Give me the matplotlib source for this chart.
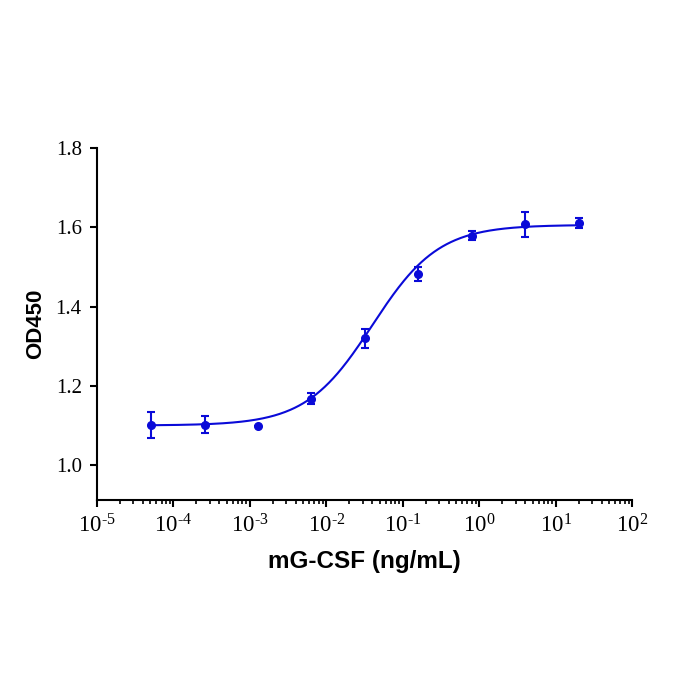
import numpy as np
import matplotlib
matplotlib.use("Agg")
import matplotlib.pyplot as plt
from matplotlib.ticker import LogLocator, FuncFormatter, NullFormatter

plt.rcParams['mathtext.fontset'] = 'custom'
plt.rcParams['mathtext.rm'] = 'Liberation Serif'
plt.rcParams['mathtext.it'] = 'Liberation Serif:italic'
plt.rcParams['mathtext.bf'] = 'Liberation Serif:bold'

# Data
conc = [5.12e-5, 2.56e-4, 1.28e-3, 6.4e-3, 0.032, 0.16, 0.8, 4.0, 20.0]
od = [1.101, 1.102, 1.098, 1.167, 1.320, 1.482, 1.579, 1.607, 1.611]
sd = [0.032, 0.021, 0.0, 0.014, 0.024, 0.018, 0.011, 0.032, 0.0135]

# 4PL fit parameters
fit_bottom = 1.100
fit_top = 1.606
fit_ec50 = 0.040
fit_hill = 1.0

color = '#0a0ad8'

fig = plt.figure(figsize=(7, 7), dpi=100)
ax = fig.add_axes([0.1386, 0.2857, 0.7643, 0.5029])

xs = np.logspace(np.log10(conc[0]), np.log10(conc[-1]), 400)
ys = fit_bottom + (fit_top - fit_bottom) / (1 + (fit_ec50 / xs) ** fit_hill)
ax.plot(xs, ys, color=color, lw=1.5)
ax.errorbar(conc, od, yerr=sd, fmt='o', color=color, ms=5.5, capsize=3,
            elinewidth=1.5, capthick=1.5)


def xfmt(v, p):
    e = round(np.log10(v))
    if e < 0:
        return r'$\mathrm{10}^{\text{-%d}}$' % (-e)
    return r'$\mathrm{10}^{\mathrm{%d}}$' % e


ax.set_xscale('log')
ax.set_xlim(1e-5, 1e2)
ax.set_ylim(0.912, 1.8)
ax.set_yticks([1.0, 1.2, 1.4, 1.6, 1.8])
ax.yaxis.set_major_formatter(FuncFormatter(lambda v, p: f"{v:.1f}"))
ax.xaxis.set_major_locator(LogLocator(base=10, numticks=20))
ax.xaxis.set_minor_locator(LogLocator(base=10, subs=np.arange(2, 10), numticks=20))
ax.xaxis.set_minor_formatter(NullFormatter())
ax.xaxis.set_major_formatter(FuncFormatter(xfmt))

for s in ['top', 'right']:
    ax.spines[s].set_visible(False)
for s in ['left', 'bottom']:
    ax.spines[s].set_linewidth(1.5)
ax.tick_params(axis='y', which='major', length=5, width=1.5, direction='out', labelsize=15, pad=6)
ax.tick_params(axis='x', which='major', length=5, width=1.5, direction='out', labelsize=16.5, pad=5)
ax.tick_params(axis='x', which='minor', length=3, width=1.2, direction='out')
for lbl in ax.get_yticklabels() + ax.get_xticklabels():
    lbl.set_fontfamily('Liberation Serif')

ax.set_xlabel('mG-CSF (ng/mL)', fontsize=17.5, fontweight='bold', family='Liberation Sans', labelpad=9)
ax.set_ylabel('OD450', fontsize=16, fontweight='bold', family='Liberation Sans', labelpad=7)

fig.savefig('out.png', dpi=100)
